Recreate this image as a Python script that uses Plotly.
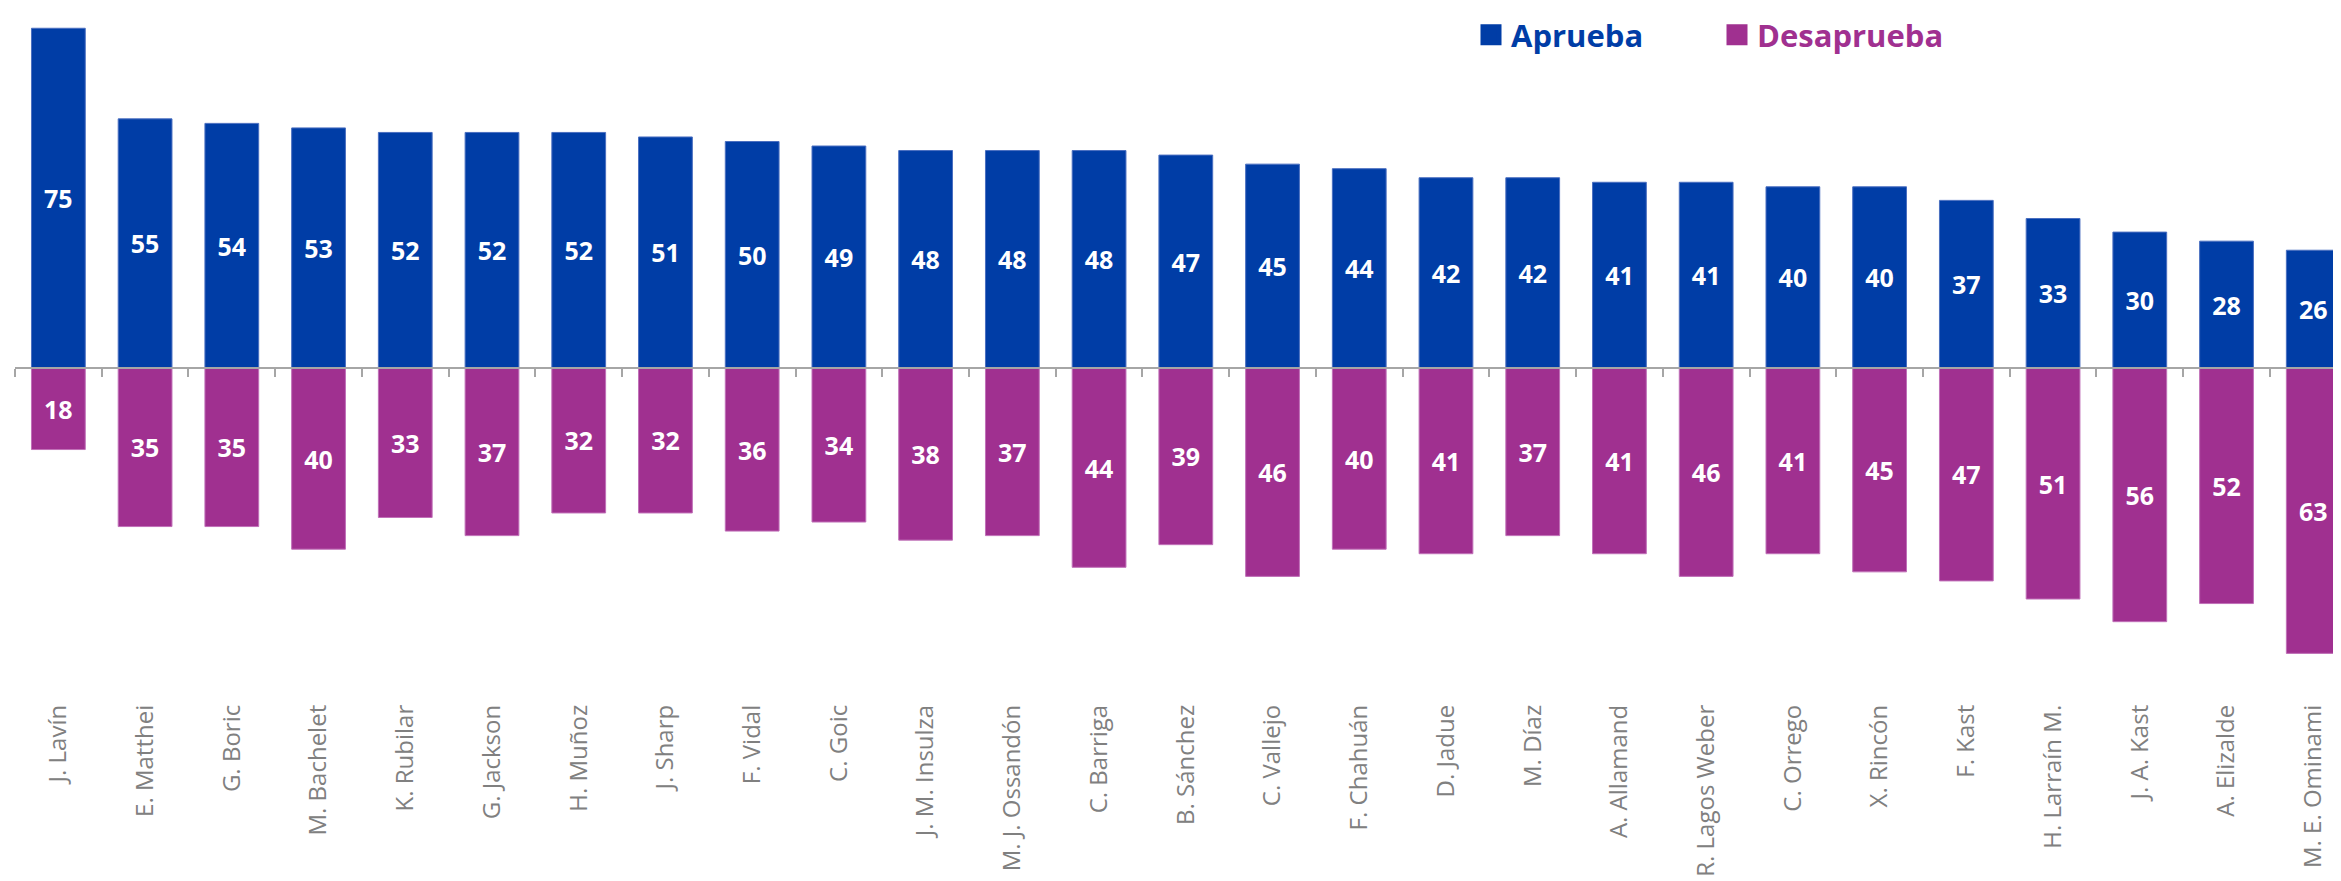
import plotly.graph_objects as go
import numpy as np

nombres = ["J. Lavín", "E. Matthei", "G. Boric", "M. Bachelet", "K. Rubilar", "G. Jackson",
           "H. Muñoz", "J. Sharp", "F. Vidal", "C. Goic", "J. M. Insulza", "M. J. Ossandón",
           "C. Barriga", "B. Sánchez", "C. Vallejo", "F. Chahuán", "D. Jadue", "M. Díaz",
           "A. Allamand", "R. Lagos Weber", "C. Orrego", "X. Rincón", "F. Kast", "H. Larraín M.",
           "J. A. Kast", "A. Elizalde", "M. E. Ominami"]
aprueba = [75, 55, 54, 53, 52, 52, 52, 51, 50, 49, 48, 48, 48, 47, 45, 44, 42, 42, 41, 41, 40, 40, 37, 33, 30, 28, 26]
desaprueba = [18, 35, 35, 40, 33, 37, 32, 32, 36, 34, 38, 37, 44, 39, 46, 40, 41, 37, 41, 46, 41, 45, 47, 51, 56, 52, 63]

AZUL = "#003DA6"
MORADO = "#A03090"
# page body has an 8px margin; size the figure so it ends at the window edge
W, H = 2333, 873
ML, MR, MT, PB = 7, 0, 0, 691
PX_PER_UNIT = 4.53
ZERO_PX = 360
ymax = (ZERO_PX - MT) / PX_PER_UNIT
ymin = -(PB - ZERO_PX) / PX_PER_UNIT
n = len(nombres)
xr = [-0.5, n - 1 + 0.32]

fig = go.Figure()
fig.add_trace(go.Bar(
    x=nombres, y=aprueba, width=0.62, marker=dict(color=AZUL, line=dict(color="#4a6fc0", width=1)),
    text=[str(v) for v in aprueba], textposition="inside", insidetextanchor="middle", textangle=0,
    textfont=dict(family="Open Sans", size=25, color="white", weight="bold"),
    showlegend=False, cliponaxis=False))
fig.add_trace(go.Bar(
    x=nombres, y=[-v for v in desaprueba], width=0.62, marker=dict(color=MORADO, line=dict(color="#c070b8", width=1)),
    text=[str(v) for v in desaprueba], textposition="inside", insidetextanchor="middle", textangle=0,
    textfont=dict(family="Open Sans", size=25, color="white", weight="bold"),
    showlegend=False, cliponaxis=False))

# legend entries
fig.add_trace(go.Scatter(x=[None], y=[None], mode="markers",
                         marker=dict(symbol="square", size=16, color=AZUL, line=dict(color=AZUL, width=5)),
                         name=f'<span style="color:{AZUL}"><b>Aprueba</b></span>'))
fig.add_trace(go.Scatter(x=[None], y=[None], mode="markers",
                         marker=dict(symbol="square", size=16, color=MORADO, line=dict(color=MORADO, width=5)),
                         name=f'<span style="color:{MORADO}"><b>Desaprueba</b></span>'))

# zero axis with boundary ticks
bordes = list(np.arange(n) - 0.5)
fig.add_trace(go.Scatter(x=[None], y=[None], xaxis="x2", showlegend=False))

plot_w = W - ML - MR
plot_h = PB - MT
fig.update_layout(
    width=W, height=H,
    margin=dict(l=ML, r=MR, t=MT, b=H - PB, pad=0, autoexpand=False),
    paper_bgcolor="white", plot_bgcolor="white",
    barmode="relative",
    xaxis=dict(type="category", range=xr, showgrid=False, zeroline=False, showline=False,
               ticks="", tickangle=-90, tickfont=dict(family="Open Sans", size=24, color="#808080")),
    xaxis2=dict(overlaying="x", anchor="free", position=(0 - ymin) / (ymax - ymin), range=xr,
                showgrid=False, zeroline=False, showline=True, linecolor="#A6A6A6", linewidth=2,
                tickvals=bordes, ticks="outside", ticklen=8, tickwidth=2, tickcolor="#A6A6A6",
                showticklabels=False),
    yaxis=dict(range=[ymin, ymax], visible=False, showgrid=False, zeroline=False),
    legend=dict(orientation="h", x=(1463 - ML) / plot_w, xanchor="left",
                y=1, yanchor="top",
                font=dict(family="Open Sans", size=31), entrywidth=201, entrywidthmode="pixels",
                bgcolor="rgba(0,0,0,0)"),
    showlegend=True,
)
fig.write_html("out.html")
